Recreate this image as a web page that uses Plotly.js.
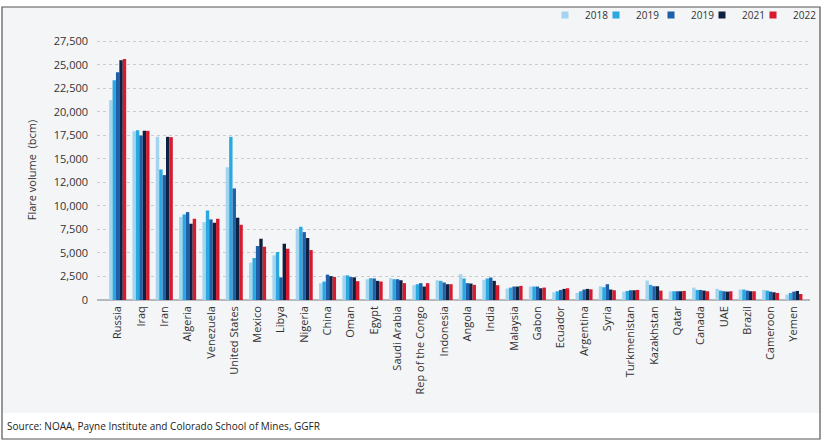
<!DOCTYPE html>
<html>
<head>
<meta charset="utf-8">
<script src="https://cdn.plot.ly/plotly-3.0.1.min.js"></script>
<style>html,body{margin:0;padding:0;background:#fff;}#chart{width:824px;height:445px;}</style>
</head>
<body>
<div id="chart"></div>
<script>
const countries = ["Russia","Iraq","Iran","Algeria","Venezuela","United States","Mexico","Libya","Nigeria","China","Oman","Egypt","Saudi Arabia","Rep of the Congo","Indonesia","Angola","India","Malaysia","Gabon","Ecuador","Argentina","Syria","Turkmenistan","Kazakhstan","Qatar","Canada","UAE","Brazil","Cameroon","Yemen"];
const seriesNames = ["2018","2019","2019","2021","2022"];
const v2018  = [21250,17950,17350,8820,8290,14130,3970,4750,7580,1780,2600,2210,2320,1570,2100,2750,2140,1220,1430,820,750,1460,890,2070,930,1320,1180,1110,1070,570];
const v2019  = [23370,18060,13880,9100,9520,17350,4460,5100,7790,1960,2620,2320,2210,1680,2035,2290,2290,1320,1430,930,930,1360,965,1610,930,1070,1000,1110,1000,750];
const v2019b = [24220,17490,13280,9350,8570,11860,5740,2410,7220,2700,2440,2290,2210,1790,1860,1790,2390,1430,1430,1070,1110,1680,1035,1460,930,1070,930,1000,890,890];
const v2021  = [25500,17990,17350,8110,8215,8750,6515,5985,6590,2540,2410,2035,2100,1430,1680,1750,2035,1430,1250,1180,1180,1110,1035,1460,930,1000,890,930,820,965];
const v2022  = [25640,17990,17320,8640,8640,8000,5665,5450,5310,2450,2000,1965,1790,1790,1680,1610,1570,1500,1320,1250,1140,1035,1070,1000,965,930,930,930,750,640];
const tickVals  = [0,2500,5000,7500,10000,12500,15000,17500,20000,22500,25000,27500];
const tickTexts = ["0","2,500","5,000","7,500","10,000","12,000","15,000","17,500","20,000","22,500","25,000","27,500"];

const colors = ["#a3d5f0","#2ba8e0","#1f5ea9","#0e2141","#d71a2e"];
const allVals = [v2018, v2019, v2019b, v2021, v2022];
const legendIds = ["legend","legend2","legend3","legend4","legend5"];

const traces = [];
allVals.forEach((vals, i) => {
  traces.push({
    type: "bar", name: seriesNames[i], x: countries, y: vals,
    marker: {color: colors[i]}, showlegend: false, hoverinfo: "x+y"
  });
});
// legend-only entries (small square keys like the reference)
allVals.forEach((vals, i) => {
  traces.push({
    type: "scatter", mode: "markers", name: seriesNames[i], x: [null], y: [null],
    marker: {color: colors[i], symbol: "square", size: 7}, legend: legendIds[i],
    showlegend: true, hoverinfo: "skip"
  });
});

// plot area: x 97..810, y 40..300
const L = 97, R = 14, T = 40, B = 145, W = 824, H = 445;
const pw = W - L - R, ph = H - T - B;
const px = p => (p - L) / pw;
const py = p => (H - B - p) / ph;

const legendLefts = [545, 596, 651, 702, 753];

const layout = {
  width: W, height: H,
  margin: {l: L, r: R, t: T, b: B, pad: 0},
  paper_bgcolor: "#ffffff",
  plot_bgcolor: "rgba(0,0,0,0)",
  font: {family: "Open Sans, sans-serif", size: 11, color: "#333"},
  barmode: "group",
  bargap: 0.27,
  bargroupgap: 0,
  showlegend: true,
  xaxis: {
    type: "category", tickangle: -90, tickfont: {size: 11, color: "#333"},
    showgrid: false, showline: false, ticks: "", automargin: false,
    ticklabelstandoff: 3,
    range: [-0.886, 29.69]
  },
  yaxis: {
    range: [0, 27650], tickmode: "array", tickvals: tickVals, ticktext: tickTexts,
    showgrid: true, gridcolor: "#c9cdd1", griddash: "dot", gridwidth: 1,
    zeroline: true, zerolinecolor: "#b5b9bd", zerolinewidth: 1.5,
    tickfont: {size: 11, color: "#333"}, ticks: "", ticklabelstandoff: 8,
    title: {text: "Flare volume  (bcm)", font: {size: 11, color: "#333"}, standoff: 14},
    automargin: false
  },
  shapes: [
    {type: "rect", xref: "paper", yref: "paper", layer: "below",
     x0: px(2), x1: px(821), y0: py(413), y1: py(7),
     fillcolor: "#f3f5f7", line: {width: 0}},
    {type: "rect", xref: "paper", yref: "paper", layer: "above",
     x0: px(2), x1: px(820), y0: py(439), y1: py(7),
     fillcolor: "rgba(0,0,0,0)", line: {color: "#555", width: 1.2}}
  ],
  annotations: [
    {text: "Source: NOAA, Payne Institute and Colorado School of Mines, GGFR",
     xref: "paper", yref: "paper", x: px(5), y: py(426), xanchor: "left", yanchor: "middle",
     showarrow: false, font: {size: 10, color: "#222"}}
  ]
};
legendIds.forEach((id, i) => {
  layout[id] = {
    orientation: "h", xref: "container", yref: "container",
    x: legendLefts[i] / W, xanchor: "left", y: 1 - 15 / H, yanchor: "middle",
    font: {size: 10, color: "#333"}, itemwidth: 30,
    bgcolor: "rgba(0,0,0,0)", borderwidth: 0
  };
});

Plotly.newPlot("chart", traces, layout, {displayModeBar: false, staticPlot: true});
</script>
</body>
</html>
